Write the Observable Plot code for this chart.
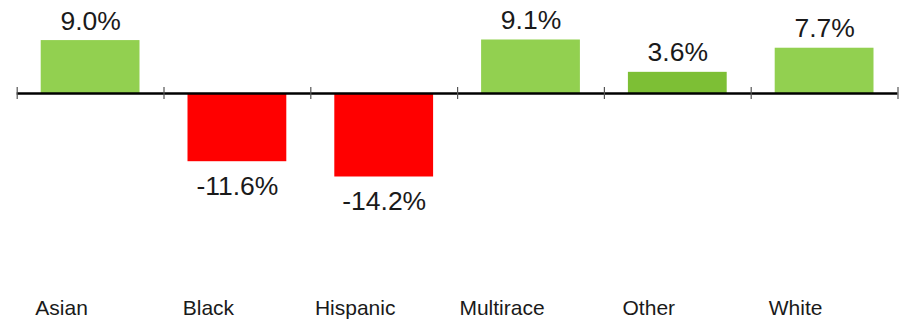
<!DOCTYPE html>
<html>
<head>
<meta charset="utf-8">
<script src="https://cdn.jsdelivr.net/npm/d3@7"></script>
<script src="https://cdn.jsdelivr.net/npm/@observablehq/plot@0.6"></script>
<style>
  html, body { margin: 0; padding: 0; background: #fff; }
  #chart svg { display: block; }
</style>
</head>
<body>
<div id="chart"></div>
<script>
const categories = ["Asian", "Black", "Hispanic", "Multirace", "Other", "White"];
const values = [9.0, -11.6, -14.2, 9.1, 3.6, 7.7];
const labels = ["9.0%", "-11.6%", "-14.2%", "9.1%", "3.6%", "7.7%"];

const data = categories.map((c, i) => ({category: c, value: values[i], label: labels[i]}));

const W = 913, H = 319;
const mL = 16.7, mR = 15.5, mT = 0, mB = 30;
const zeroY = 93, k = 5.88;
const yTop = (zeroY - mT) / k;
const yBot = -(H - mB - zeroY) / k;
const step = (W - mL - mR) / categories.length;
const tickHalf = 6 / k;

function fillFor(d) {
  if (d.value < 0) return "#ff0000";
  if (d.category === "Other") return "#7dbf35";
  return "#92d050";
}

const chart = Plot.plot({
  width: W,
  height: H,
  marginLeft: mL,
  marginRight: mR,
  marginTop: mT,
  marginBottom: mB,
  style: {fontFamily: "'Liberation Sans', Arial, sans-serif", background: "#fff"},
  x: {domain: categories, paddingInner: 0.327, paddingOuter: 0.1635, round: false},
  y: {domain: [yBot, yTop], axis: null},
  marks: [
    Plot.barY(data, {x: "category", y: "value", fill: fillFor}),
    Plot.ruleY([0], {stroke: "#000", strokeWidth: 2.5}),
    Plot.ruleX(categories, {x: d => d, y1: -tickHalf, y2: tickHalf, dx: -step / 2, stroke: "#555", strokeWidth: 1.2}),
    Plot.ruleX([categories[categories.length - 1]], {x: d => d, y1: -tickHalf, y2: tickHalf, dx: step / 2, stroke: "#555", strokeWidth: 1.2}),
    Plot.text(data.filter(d => d.value >= 0), {x: "category", y: "value", text: "label", lineAnchor: "bottom", dy: -11, fontSize: 26.5, fill: "#1a1a1a"}),
    Plot.text(data.filter(d => d.value < 0), {x: "category", y: "value", text: "label", lineAnchor: "top", dy: 14, fontSize: 26.5, fill: "#1a1a1a"}),
    Plot.axisX({anchor: "bottom", tickSize: 0, tickPadding: 10.5, dx: -29, fontSize: 21, fill: "#1a1a1a", label: null})
  ]
});

document.getElementById("chart").appendChild(chart);
</script>
</body>
</html>
